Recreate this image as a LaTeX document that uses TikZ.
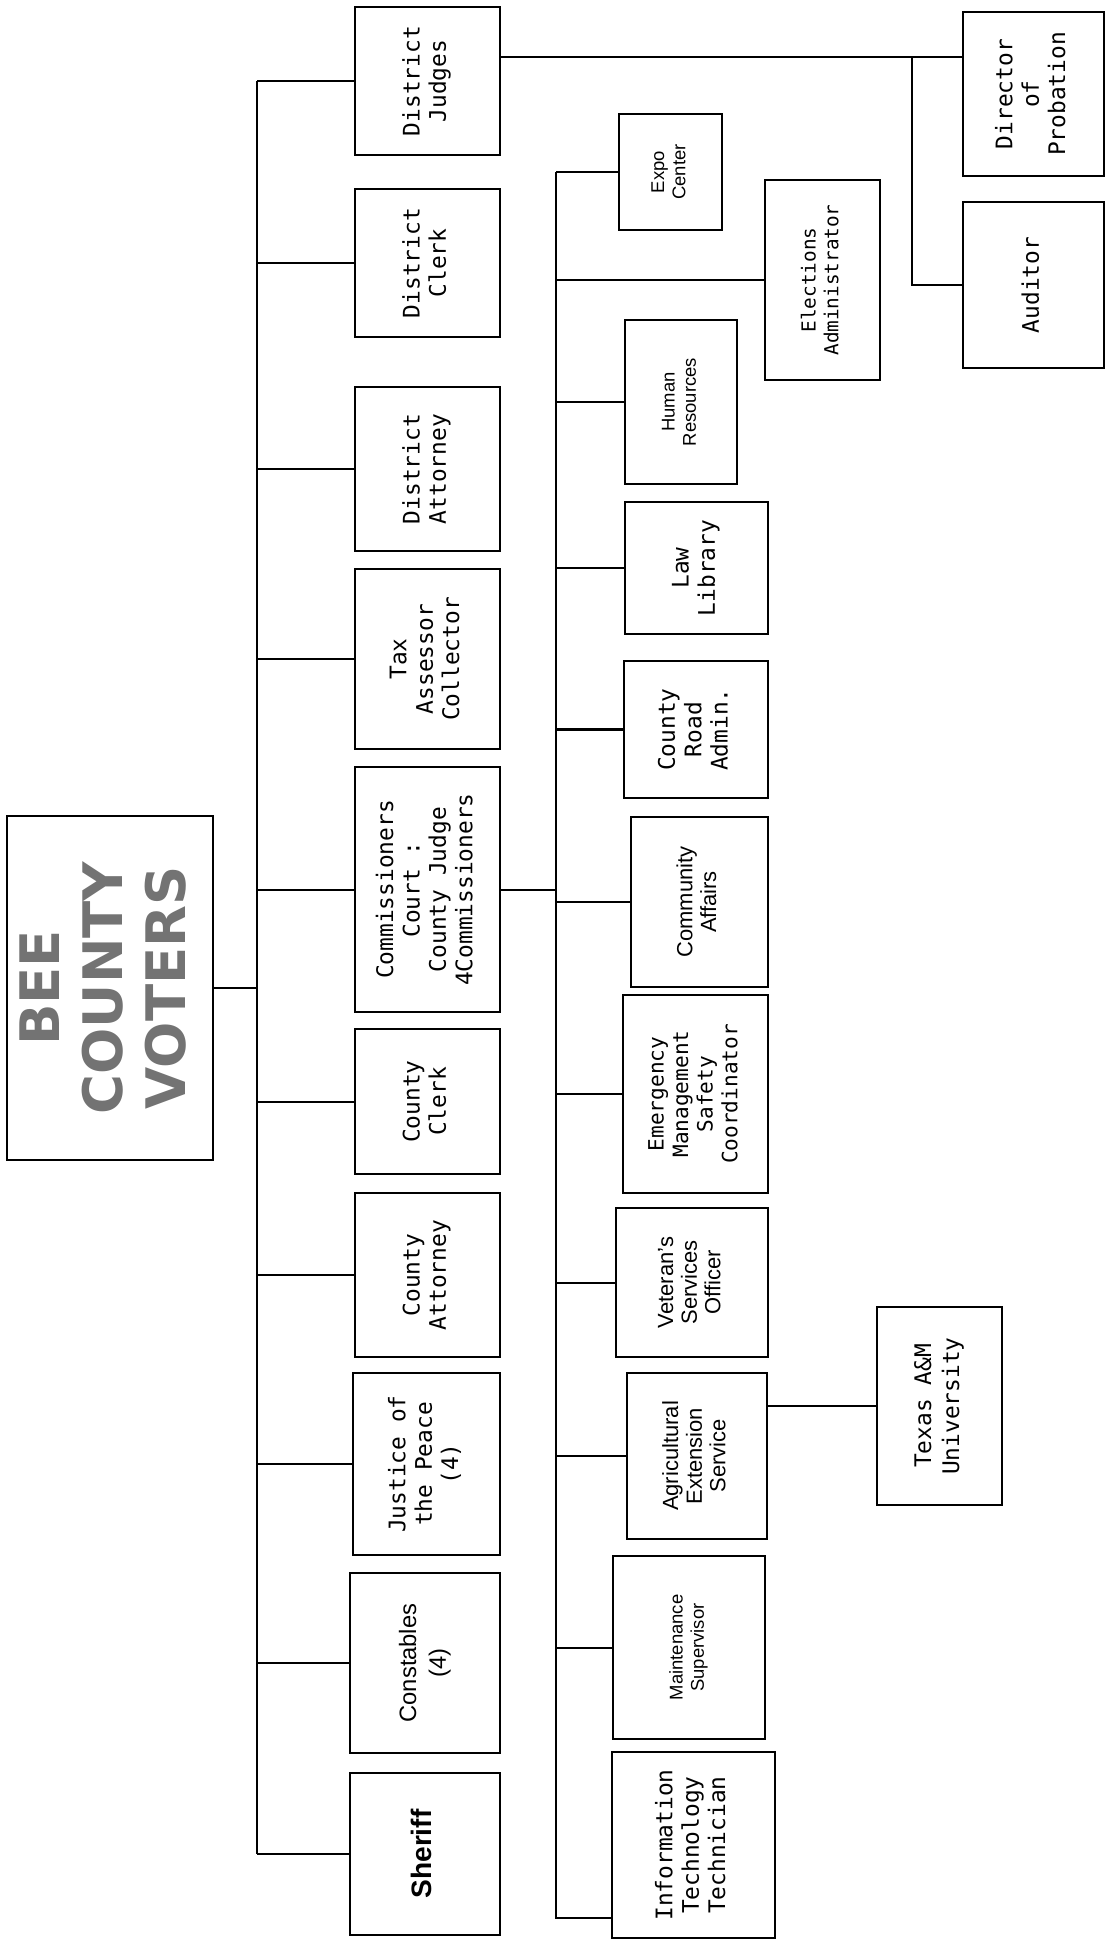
\documentclass[tikz,border=0pt]{standalone}
\usepackage{fontspec}
\usepackage{graphicx}
\newfontfamily\monof{DejaVu Sans Mono}
\newfontfamily\sansf{Liberation Sans}
\newfontfamily\headf{DejaVu Sans}
% rotated multi-line box text
\newcommand{\vt}[1]{\rotatebox{90}{\begin{tabular}{@{}c@{}}#1\end{tabular}}}
% box from its two corners: name, style, x1, y1, x2, y2, text
\newcommand{\bx}[7]{%
  \node[#2, minimum width={(#5-#3)*0.02cm}, minimum height={(#6-#4)*0.02cm}]
    (#1) at ({(#3+#5)/2},{(#4+#6)/2}) {\vt{#7}};}

\begin{document}
\begin{tikzpicture}[x=0.02cm,y=-0.02cm,
    mbox/.style={draw, line width=1.3pt, inner sep=0pt, font=\monof\fontsize{13}{15}\selectfont},
    sbox/.style={draw, line width=1.3pt, inner sep=0pt, font=\sansf\fontsize{12.5}{13.5}\selectfont},
    tbox/.style={sbox, font=\sansf\fontsize{10.5}{12}\selectfont},
    hbox/.style={draw, line width=1.3pt, inner sep=0pt, font=\headf\bfseries\fontsize{31}{36}\selectfont, text=black!55},
    conn/.style={line width=1.15pt}]
  \useasboundingbox (0,0) rectangle (1106,1940);

  % voters
  \bx{bcv}{hbox}{7}{816}{213}{1160}{BEE\\COUNTY\\VOTERS}

  % elected officials
  \bx{dj}{mbox}{355}{7}{500}{155}{District\\Judges}
  \bx{dc}{mbox}{355}{189}{500}{337}{District\\Clerk}
  \bx{da}{mbox}{355}{387}{500}{551}{District\\Attorney}
  \bx{tac}{mbox}{355}{569}{500}{749}{Tax\\Assessor\\Collector}
  \bx{cc}{mbox}{355}{767}{500}{1012}{Commissioners\\Court :\\County Judge\\4Commissioners}
  \bx{coc}{mbox}{355}{1029}{500}{1174}{County\\Clerk}
  \bx{coa}{mbox}{355}{1193}{500}{1357}{County\\Attorney}
  \bx{jp}{mbox}{353}{1373}{500}{1555}{Justice of\\the Peace\\(4)}
  \bx{con}{sbox, font=\sansf\fontsize{13.5}{17}\selectfont}{350}{1573}{500}{1753}{Constables\\(4)}
  \bx{sh}{sbox, font=\sansf\bfseries\fontsize{16}{18}\selectfont}{350}{1773}{500}{1935}{Sheriff}

  % commissioners court departments
  \bx{expo}{tbox}{619}{114}{722}{230}{Expo\\Center}
  \bx{ea}{mbox, font=\monof\fontsize{11}{13}\selectfont}{765}{180}{880}{380}{Elections\\Administrator}
  \bx{hr}{tbox}{625}{320}{737}{484}{Human\\Resources}
  \bx{ll}{mbox}{625}{502}{768}{634}{Law\\Library}
  \bx{cra}{mbox}{624}{661}{768}{798}{County\\Road\\Admin.}
  \bx{ca}{sbox}{631}{817}{768}{987}{Community\\Affairs}
  \bx{em}{mbox, font=\monof\fontsize{12}{14}\selectfont}{623}{995}{768}{1193}{Emergency\\Management\\Safety\\Coordinator}
  \bx{vso}{sbox}{616}{1208}{768}{1357}{Veteran’s\\Services\\Officer}
  \bx{aes}{sbox}{627}{1373}{767}{1539}{Agricultural\\Extension\\Service}
  \bx{ms}{tbox}{613}{1556}{765}{1739}{Maintenance\\Supervisor}
  \bx{it}{mbox}{612}{1752}{775}{1938}{Information\\Technology\\Technician}
  \bx{tamu}{mbox, font=\monof\fontsize{13}{16}\selectfont}{877}{1307}{1002}{1505}{Texas A\&M\\University}

  % district judges appointees
  \bx{dop}{mbox}{963}{12}{1104}{176}{Director\\of\\Probation}
  \bx{aud}{mbox}{963}{202}{1104}{368}{Auditor}

  \coordinate (t1) at (257,0);
  \coordinate (t2) at (556,0);
  \coordinate (jn) at (912,57);
  \coordinate (itb) at (556,1918);

  % connectors
  \draw[conn] (bcv.east) -- (bcv.east -| t1);
  \draw[conn] (t1 |- dj.west) -- (t1 |- sh.west);
  \foreach \n in {dj,dc,da,tac,cc,coc,coa,jp,con,sh}
    \draw[conn] (\n.west) -- (\n.west -| t1);
  \draw[conn] (cc.east) -- (cc.east -| t2);
  \draw[conn] (t2 |- expo.west) -- (itb) -- (itb -| it.west);
  \foreach \n in {expo,ea,hr,ll,cra,ca,em,vso,aes,ms}
    \draw[conn] (\n.west) -- (\n.west -| t2);
  \draw[conn] (tamu.west) -- (tamu.west -| aes.east);
  \draw[conn] (dj.east |- jn) -- (dop.west |- jn);
  \draw[conn] (jn) |- (aud.west);
\end{tikzpicture}
\end{document}
